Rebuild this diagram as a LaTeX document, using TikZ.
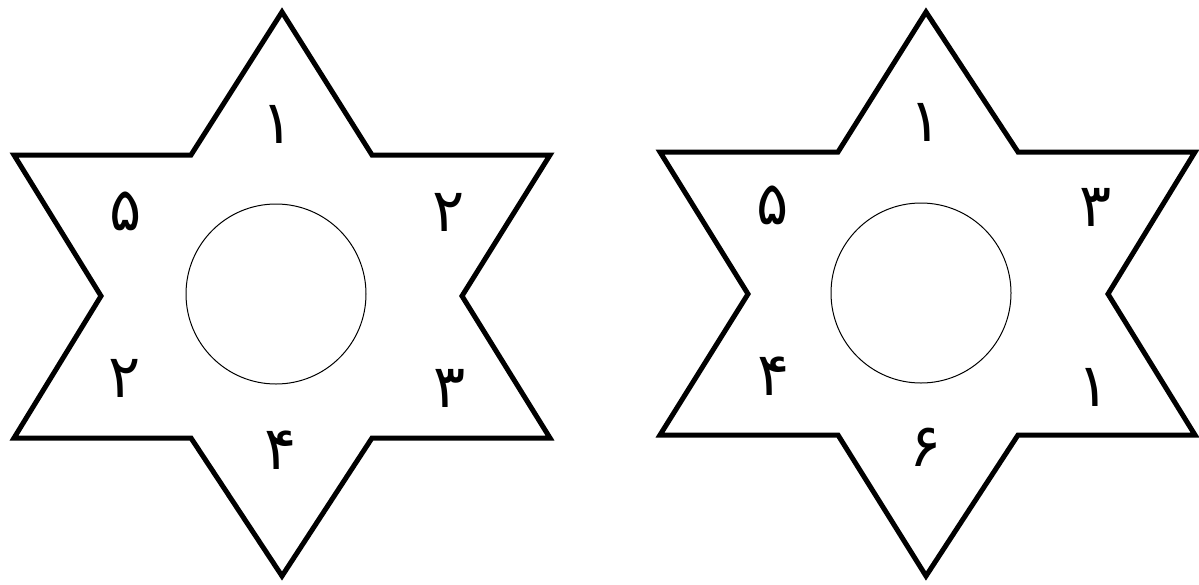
\documentclass[tikz,border=0pt]{standalone}
\usepackage{fontspec}
\newfontfamily\arabicfont[Script=Arabic]{DejaVu Sans}
\TeXXeTstate=1

\begin{document}
\begin{tikzpicture}[x=1pt,y=-1pt,
  starline/.style={line width=5pt, line join=miter},
  hole/.style={line width=1pt},
  digit/.style={font=\arabicfont\fontsize{60}{60}\selectfont, inner sep=0pt}]
\useasboundingbox (0,0) rectangle (1199,584);

% left star
\draw[starline] (282,12) -- (372,155) -- (550,155) -- (462,296) -- (550,438)
  -- (372,438) -- (282,576) -- (191,438) -- (14,438) -- (101,296) -- (14,155)
  -- (191,155) -- cycle;
\draw[hole] (276,294) circle (90pt);

\node[digit] (l1) at (278,124) {\beginR ۱\endR};
\node[digit] (l2) at (449,212) {\beginR ۲\endR};
\node[digit] (l3) at (450,388) {\beginR ۳\endR};
\node[digit] (l4) at (281,450) {\beginR ۴\endR};
\node[digit] (l6) at (125,378) {\beginR ۲\endR};
\node[digit] (l5) at (126,211) {\beginR ۵\endR};

% right star
\draw[starline] (926,12) -- (1018,152) -- (1195,152) -- (1108,294) -- (1195,435)
  -- (1018,435) -- (926,576) -- (838,435) -- (660,435) -- (748,294) -- (660,152)
  -- (838,152) -- cycle;
\draw[hole] (921,293) circle (90pt);

\node[digit] (r1) at (926,122) {\beginR ۱\endR};
\node[digit] (r3) at (1096,207) {\beginR ۳\endR};
\node[digit] (r7) at (1094,387) {\beginR ۱\endR};
\node[digit] (r6) at (926,447) {\beginR ۶\endR};
\node[digit] (r4) at (774,376) {\beginR ۴\endR};
\node[digit] (r5) at (773,205) {\beginR ۵\endR};
\end{tikzpicture}
\end{document}
